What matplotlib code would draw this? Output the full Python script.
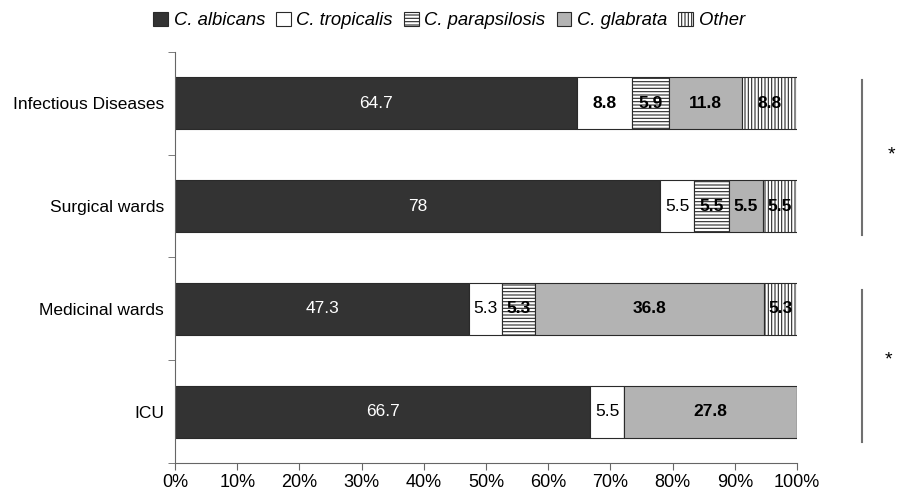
import numpy as np
import matplotlib.pyplot as plt
from matplotlib.patches import Patch

plt.rcParams['font.family'] = ['Liberation Sans', 'DejaVu Sans']
plt.rcParams['hatch.linewidth'] = 0.8

wards = ['Infectious Diseases', 'Surgical wards', 'Medicinal wards', 'ICU']
species = ['C. albicans', 'C. tropicalis', 'C. parapsilosis', 'C. glabrata', 'Other']

albicans = [64.7, 78, 47.3, 66.7]
tropicalis = [8.8, 5.5, 5.3, 5.5]
parapsilosis = [5.9, 5.5, 5.3, 0]
glabrata = [11.8, 5.5, 36.8, 27.8]
other = [8.8, 5.5, 5.3, 0]

# which value labels are printed in bold (per ward, per species)
bold = [[False, True, True, True, True],
        [False, False, True, True, True],
        [False, False, True, True, True],
        [False, False, False, True, False]]

colors = ['#333333', 'white', 'white', '#b3b3b3', 'white']
hatches = ['', '', '-----', '', '|||||']
edge = '#2a2a2a'

series = [albicans, tropicalis, parapsilosis, glabrata, other]

fig = plt.figure(figsize=(8.98, 4.92), dpi=100)
ax = fig.add_axes([0.195, 0.059, 0.6925, 0.8355])

y = np.arange(len(wards))
left = np.zeros(len(wards))
for k, vals in enumerate(series):
    vals = np.array(vals, dtype=float)
    ax.barh(y, vals, left=left, height=0.506, color=colors[k],
            edgecolor=edge, linewidth=0.8, hatch=hatches[k])
    for i, v in enumerate(vals):
        if v <= 0:
            continue
        txt = ('%g' % v)
        ax.text(left[i] + v / 2, y[i], txt, ha='center', va='center',
                fontsize=12.5, color='white' if k == 0 else 'black',
                fontweight='bold' if bold[i][k] else 'normal')
    left += vals

ax.set_xlim(0, 100)
ax.set_ylim(3.5, -0.5)
ax.set_xticks(np.arange(0, 101, 10))
ax.set_xticklabels(['%d%%' % t for t in range(0, 101, 10)], fontsize=13)
ax.set_yticks(y)
ax.set_yticklabels(wards, fontsize=12.5)
ax.tick_params(axis='y', length=0, pad=8)
# separator ticks between the wards on the category axis
ax.set_yticks(np.arange(-0.5, 4.0, 1.0), minor=True)
ax.tick_params(axis='y', which='minor', length=5, color='#666666')
ax.tick_params(axis='x', length=5, color='#666666', pad=3)
for s in ['top', 'right']:
    ax.spines[s].set_visible(False)
for s in ['left', 'bottom']:
    ax.spines[s].set_color('#666666')

handles = [Patch(facecolor=colors[k], edgecolor=edge, hatch=hatches[k], linewidth=0.8)
           for k in range(len(species))]
leg = fig.legend(handles, species, loc='upper center', bbox_to_anchor=(0.5, 1.01),
                 ncol=5, frameon=False, handlelength=0.8, handleheight=0.8,
                 handletextpad=0.3, columnspacing=0.6,
                 prop={'style': 'italic', 'size': 13.3})

# significance brackets
fig.add_artist(plt.Line2D([862 / 898, 862 / 898], [1 - 80 / 492, 1 - 235 / 492],
                          color='#707070', lw=1.5))
fig.add_artist(plt.Line2D([862 / 898, 862 / 898], [1 - 290 / 492, 1 - 442 / 492],
                          color='#707070', lw=1.5))
fig.text(891 / 898, 1 - 155 / 492, '*', ha='center', va='center', fontsize=14)
fig.text(888 / 898, 1 - 360 / 492, '*', ha='center', va='center', fontsize=14)

fig.savefig('out.png', dpi=100, facecolor='white')
